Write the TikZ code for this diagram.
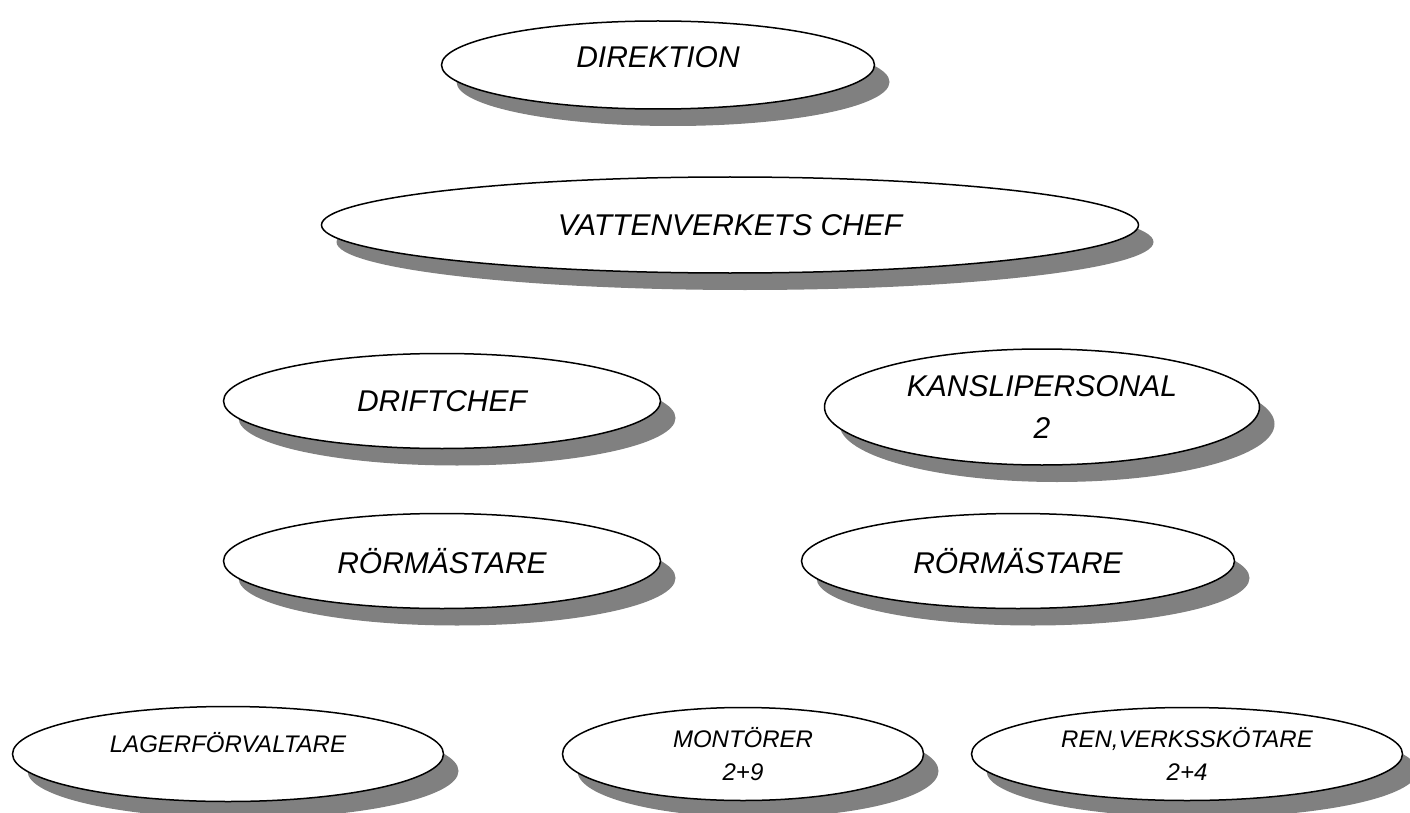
\documentclass[tikz,border=0pt]{standalone}
\usepackage{fontspec}
\setmainfont{Liberation Sans}
\usetikzlibrary{shapes.geometric,shadows}

\begin{document}
\begin{tikzpicture}[
    x=1pt, y=-1pt,
    unit/.style={ellipse, draw=black, line width=1.5pt, fill=white, inner sep=0pt,
                 align=center, font=\itshape\fontsize{30}{42}\selectfont,
                 drop shadow={shadow xshift=15pt, shadow yshift=-17pt,
                              fill=gray, opacity=1}},
    small/.style={unit, font=\itshape\fontsize{24}{33}\selectfont},
]
\useasboundingbox (0,0) rectangle (1410,813);

% management
\node[unit, minimum width=433, minimum height=88, text depth=16pt] (dir) at (658,65) {DIREKTION};
\node[unit, minimum width=817, minimum height=96] (chef) at (730,225) {VATTENVERKETS CHEF};

% second level
\node[unit, minimum width=437, minimum height=95] (drift) at (442,401) {DRIFTCHEF};
\node[unit, minimum width=435, minimum height=116] (kansli) at (1042,407) {KANSLIPERSONAL\\2};
\node[unit, minimum width=437, minimum height=95] (rorL) at (442,561) {RÖRMÄSTARE};
\node[unit, minimum width=433, minimum height=95] (rorR) at (1018,561) {RÖRMÄSTARE};

% staff
\node[small, minimum width=431, minimum height=95, text depth=24pt] (lager) at (228,754) {LAGERFÖRVALTARE};
\node[small, minimum width=361, minimum height=93] (mont) at (743,754) {MONTÖRER\\2+9};
\node[small, minimum width=431, minimum height=93] (ren) at (1187,754) {REN,VERKSSKÖTARE\\2+4};
\end{tikzpicture}
\end{document}
